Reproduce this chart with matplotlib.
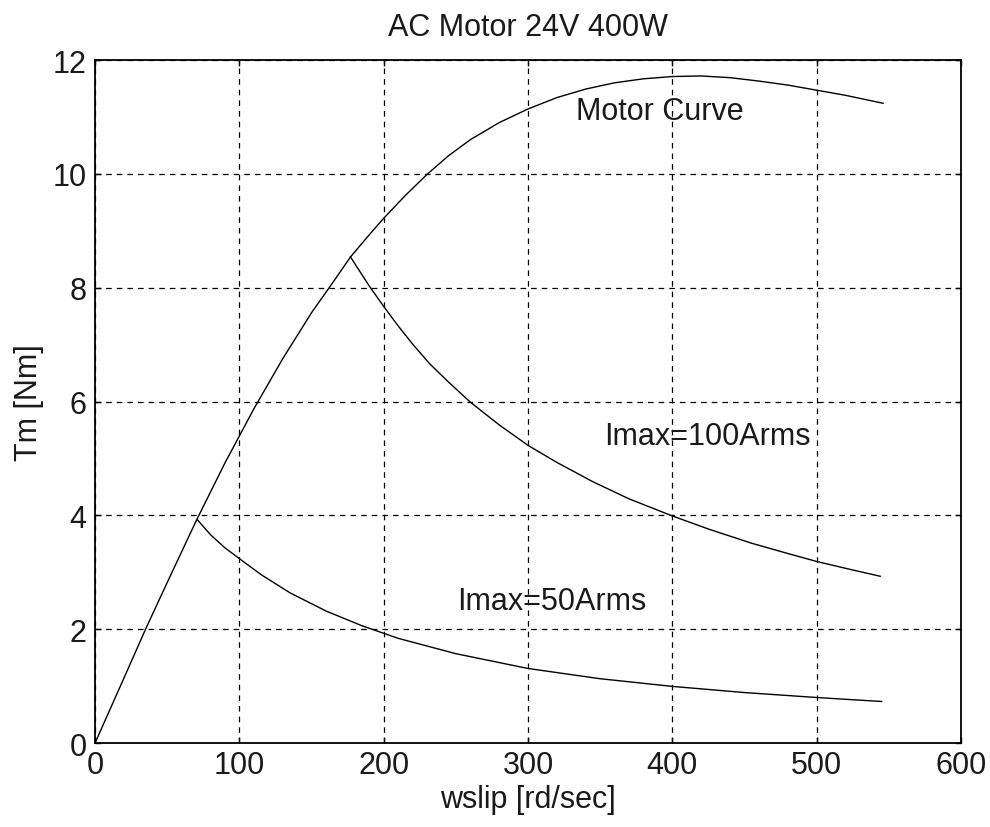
import numpy as np
import matplotlib
matplotlib.use("Agg")
import matplotlib.pyplot as plt

plt.rcParams['font.family'] = ['Liberation Sans', 'DejaVu Sans']

# motor torque curve
w_motor = [0, 20, 35, 50, 70, 90, 110, 130, 150, 165, 177, 190, 200, 215,
           230, 245, 260, 280, 300, 320, 340, 360, 380, 400, 420, 440,
           460, 480, 500, 520, 546]
t_motor = [0, 1.14, 2.0, 2.82, 3.90, 4.92, 5.87, 6.75, 7.56, 8.1, 8.54,
           8.93, 9.22, 9.62, 9.99, 10.32, 10.6, 10.9, 11.14, 11.34, 11.49,
           11.6, 11.67, 11.71, 11.72, 11.69, 11.63, 11.56, 11.47, 11.38,
           11.24]

# Imax = 100 Arms
w_100 = [177, 190, 200, 210, 220, 232, 245, 260, 280, 300, 320, 345, 370,
         400, 425, 455, 480, 500, 520, 544]
t_100 = [8.54, 8.03, 7.67, 7.33, 7.01, 6.66, 6.34, 5.99, 5.59, 5.23, 4.93,
         4.59, 4.29, 3.99, 3.76, 3.51, 3.33, 3.19, 3.07, 2.93]

# Imax = 50 Arms
w_50 = [71, 80, 90, 100, 115, 135, 160, 185, 210, 250, 300, 350, 400,
        450, 500, 545]
t_50 = [3.92, 3.66, 3.43, 3.24, 2.96, 2.64, 2.32, 2.06, 1.84, 1.57, 1.31,
        1.13, 0.995, 0.887, 0.80, 0.73]

x_ticks = [0, 100, 200, 300, 400, 500, 600]
y_ticks = [0, 2, 4, 6, 8, 10, 12]

fig = plt.figure(figsize=(9.9, 8.28), dpi=100)
ax = fig.add_axes([0.096, 0.1014, 0.8747, 0.8249])

ax.plot(w_motor, t_motor, color="black", lw=1.0)
ax.plot(w_100, t_100, color="black", lw=1.0)
ax.plot(w_50, t_50, color="black", lw=1.0)

txt_col = "#1a1a1a"
ax.text(333, 11.1, "Motor Curve", fontsize=22, va="center", ha="left",
        color=txt_col)
ax.text(353, 5.4, "Imax=100Arms", fontsize=22, va="center", ha="left",
        color=txt_col)
ax.text(251, 2.5, "Imax=50Arms", fontsize=22, va="center", ha="left",
        color=txt_col)

ax.set_xlim(0, 600)
ax.set_ylim(0, 12)
ax.set_xticks(x_ticks)
ax.set_yticks(y_ticks)
ax.tick_params(direction="in", length=4, width=1, labelsize=22,
               top=True, right=True, colors="black", labelcolor=txt_col)
ax.tick_params(axis="x", pad=5)
ax.tick_params(axis="y", pad=6)
ax.grid(True, color="black", lw=0.9, linestyle=(0, (4.5, 4)))
for s in ax.spines.values():
    s.set_linewidth(1.3)

ax.set_title("AC Motor 24V 400W", fontsize=22, pad=18, color=txt_col)
ax.set_xlabel("wslip [rd/sec]", fontsize=22, labelpad=3, color=txt_col)
ax.set_ylabel("Tm [Nm]", fontsize=22, labelpad=6, color=txt_col)

fig.savefig("out.png", dpi=100)
